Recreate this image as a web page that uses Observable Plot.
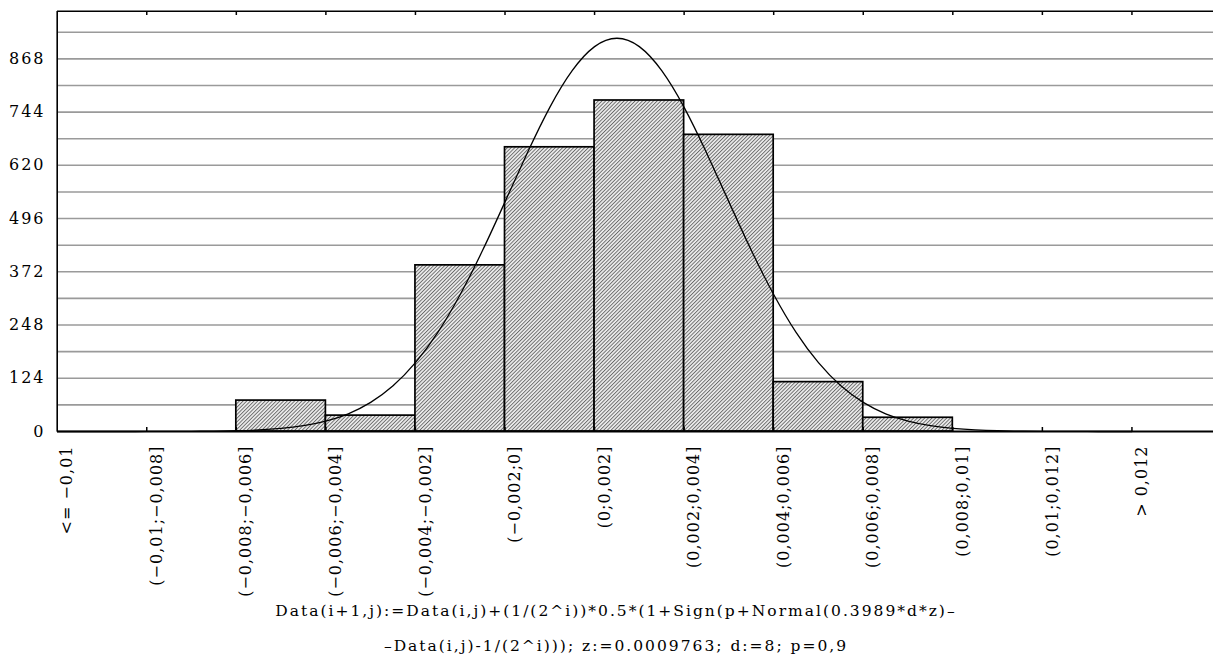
<!DOCTYPE html>
<html>
<head>
<meta charset="utf-8">
<script src="https://cdn.jsdelivr.net/npm/d3@7"></script>
<script src="https://cdn.jsdelivr.net/npm/@observablehq/plot@0.6"></script>
<style>
  html, body { margin: 0; padding: 0; background: #fff; overflow: hidden; }
  #wrap { position: relative; width: 1213px; height: 670px; }
  #chart svg text { letter-spacing: 2px; }
  #chart svg g.xlab text { letter-spacing: 1px; }
  #caption {
    position: absolute; top: 594px; left: 19px; width: 1194px;
    text-align: center; font-family: "DejaVu Serif", serif; font-size: 15.5px;
    line-height: 35px; letter-spacing: 2px; color: #000; white-space: nowrap;
  }
</style>
</head>
<body>
<svg width="0" height="0" style="position:absolute">
  <defs>
    <pattern id="hatch" width="2.6" height="2.6" patternUnits="userSpaceOnUse" patternTransform="rotate(45)">
      <rect width="2.6" height="2.6" fill="#ececec"></rect>
      <line x1="0.5" y1="0" x2="0.5" y2="2.6" stroke="#555" stroke-width="0.8"></line>
    </pattern>
  </defs>
</svg>
<div id="wrap">
  <div id="chart"></div>
  <div id="caption">
    <div>Data(i+1,j):=Data(i,j)+(1/(2^i))*0.5*(1+Sign(p+Normal(0.3989*d*z)–</div>
    <div>–Data(i,j)-1/(2^i))); z:=0.0009763; d:=8; p=0,9</div>
  </div>
</div>
<script>
// Histogram bins (left edges), labels and counts
const binStart = [-0.012, -0.010, -0.008, -0.006, -0.004, -0.002, 0, 0.002, 0.004, 0.006, 0.008, 0.010, 0.012];
const binLabels = ["<= −0,01", "(−0,01;−0,008]", "(−0,008;−0,006]", "(−0,006;−0,004]", "(−0,004;−0,002]",
  "(−0,002;0]", "(0;0,002]", "(0,002;0,004]", "(0,004;0,006]", "(0,006;0,008]", "(0,008;0,01]", "(0,01;0,012]", "> 0,012"];
const counts = [0, 0, 72, 37, 387, 662, 771, 691, 115, 32, 0, 0, 0];
const binWidth = 0.002;

// Expected normal curve
const curveX = [-0.012, -0.0115, -0.011, -0.0105, -0.010, -0.0095, -0.009, -0.0085, -0.008, -0.0075, -0.007, -0.0065,
  -0.006, -0.0055, -0.005, -0.0045, -0.004, -0.0035, -0.003, -0.0025, -0.002, -0.0015, -0.001, -0.0005, 0, 0.0005,
  0.001, 0.0015, 0.002, 0.0025, 0.003, 0.0035, 0.004, 0.0045, 0.005, 0.0055, 0.006, 0.0065, 0.007, 0.0075, 0.008,
  0.0085, 0.009, 0.0095, 0.010, 0.0105, 0.011, 0.0115, 0.012];
const curveY = [0, 0, 0, 0, 0.1, 0.2, 0.4, 0.9, 1.8, 3.7, 7.2, 13.5,
  24.1, 41.2, 67.8, 106.4, 160.3, 230.9, 319.2, 422.0, 534.9, 649.1, 754.9, 840.4, 896.5, 916,
  896.5, 840.4, 754.9, 649.1, 534.9, 422.0, 319.2, 230.9, 160.3, 106.4, 67.8, 41.2, 24.1, 13.5, 7.2,
  3.7, 1.8, 0.9, 0.4, 0.2, 0.1, 0, 0];

// Axis ticks
const yTickLabels = [0, 124, 248, 372, 496, 620, 744, 868];
const yGrid = [62, 124, 186, 248, 310, 372, 434, 496, 558, 620, 682, 744, 806, 868, 930];
const xTicks = [-0.010, -0.008, -0.006, -0.004, -0.002, 0, 0.002, 0.004, 0.006, 0.008, 0.010, 0.012];
const yMax = 979;

const bins = binStart.map((s, i) => ({start: s, end: s + binWidth, label: binLabels[i], count: counts[i]}));
const curve = curveX.map((x, i) => ({x, y: curveY[i]}));

const chart = Plot.plot({
  width: 1213,
  height: 615,
  marginLeft: 57,
  marginRight: 0,
  marginTop: 11,
  marginBottom: 184,
  x: {domain: [-0.012, 0.014], range: [56.7, 1221], axis: null},
  y: {domain: [0, yMax], range: [431, 10.7]},
  style: {fontFamily: "DejaVu Serif, serif", fontSize: "16px", background: "transparent", color: "#000", overflow: "hidden"},
  marks: [
    Plot.ruleY(yGrid, {stroke: "#9a9a9a", strokeWidth: 1.6}),
    Plot.rectY(bins.filter(d => d.count > 0), {x1: "start", x2: "end", y: "count", fill: "url(#hatch)", stroke: "#000", strokeWidth: 1.7}),
    Plot.line(curve, {x: "x", y: "y", stroke: "#000", strokeWidth: 1.3, curve: "natural"}),
    Plot.ruleY([yMax], {stroke: "#000", strokeWidth: 1.6}),
    Plot.ruleX([-0.012], {stroke: "#000", strokeWidth: 1.6}),
    Plot.ruleY([0], {stroke: "#000", strokeWidth: 2.2}),
    Plot.ruleX(xTicks, {x: d => d, insetTop: 416, stroke: "#000", strokeWidth: 1.5}),
    Plot.ruleX(xTicks, {x: d => d, insetBottom: 416, stroke: "#000", strokeWidth: 1.5}),
    Plot.axisY({ticks: yTickLabels, tickSize: 0, tickPadding: 12, tickFormat: d => String(d), fontSize: 16}),
    Plot.text(bins, {x: "start", y: 0, text: "label", rotate: -90, textAnchor: "end", dx: 10, dy: 14, fontSize: 16, className: "xlab"})
  ]
});
document.getElementById("chart").append(chart);
</script>
</body>
</html>
